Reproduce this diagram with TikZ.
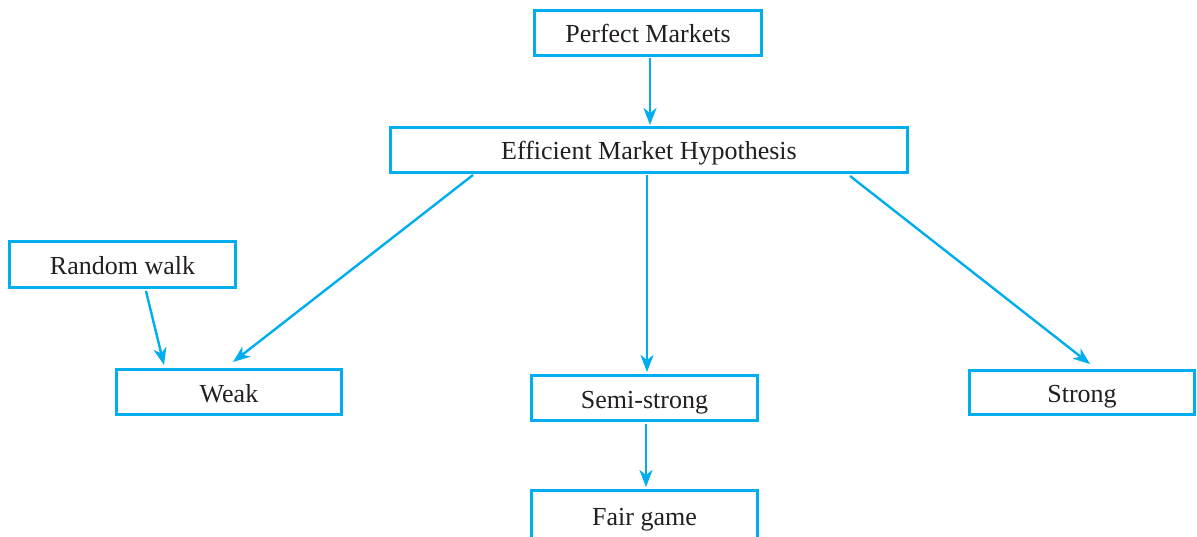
\documentclass[tikz,border=0pt]{standalone}
\usepackage{fontspec}
\setmainfont{Liberation Serif}
\usetikzlibrary{arrows.meta}
\definecolor{cy}{RGB}{0,174,239}
\definecolor{tx}{RGB}{35,31,32}
\begin{document}
\begin{tikzpicture}[x=1pt,y=-1pt,
  box/.style={draw=cy,line width=3pt,rectangle,inner sep=0pt,text=tx,
    text height=20pt,text depth=0pt,
    font=\fontsize{26}{30}\selectfont},
  arr/.style={draw=cy,line width=2.4pt,-{Stealth[length=17pt,width=13pt,inset=5pt]}}]
\clip (0,0) rectangle (1197,537);
\fill[white] (0,0) rectangle (1197,537);
\node[box,minimum width=227pt,minimum height=45pt] (pm) at (648,33) {Perfect Markets};
\node[box,minimum width=517pt,minimum height=45pt] (emh) at (649,150) {Efficient Market Hypothesis};
\node[box,minimum width=226pt,minimum height=46pt] (rw) at (122.5,264.5) {Random walk};
\node[box,minimum width=225pt,minimum height=45pt] (weak) at (229,392) {Weak};
\node[box,minimum width=226pt,minimum height=45pt] (semi) at (644.5,398) {Semi-strong};
\node[box,minimum width=225pt,minimum height=44pt] (strong) at (1082,392.5) {Strong};
\node[box,minimum width=226pt,minimum height=53pt] (fair) at (644.5,517) {};
\node[text=tx,font=\fontsize{26}{30}\selectfont,text height=20pt,text depth=0pt,inner sep=0pt] (fairt) at (644.5,515) {Fair game};
\draw[arr] ([xshift=2pt,yshift=-1pt]pm.south) -- ([xshift=2pt,yshift=1pt]pm.south |- emh.north);
\draw[arr] ([xshift=-176pt,yshift=-1pt]emh.south) -- ([xshift=4pt,yshift=6pt]weak.north);
\draw[arr] ([xshift=-2pt,yshift=-1pt]emh.south) -- ([xshift=2.5pt,yshift=2pt]semi.north);
\draw[arr] ([xshift=201pt,yshift=-2pt]emh.south) -- ([xshift=8pt,yshift=5pt]strong.north);
\draw[arr] ([xshift=23.5pt,yshift=-2pt]rw.south) -- ([xshift=-65pt,yshift=3pt]weak.north);
\draw[arr] ([xshift=1.5pt,yshift=-2pt]semi.south) -- ([xshift=1.5pt,yshift=2pt]fair.north);
\end{tikzpicture}
\end{document}
